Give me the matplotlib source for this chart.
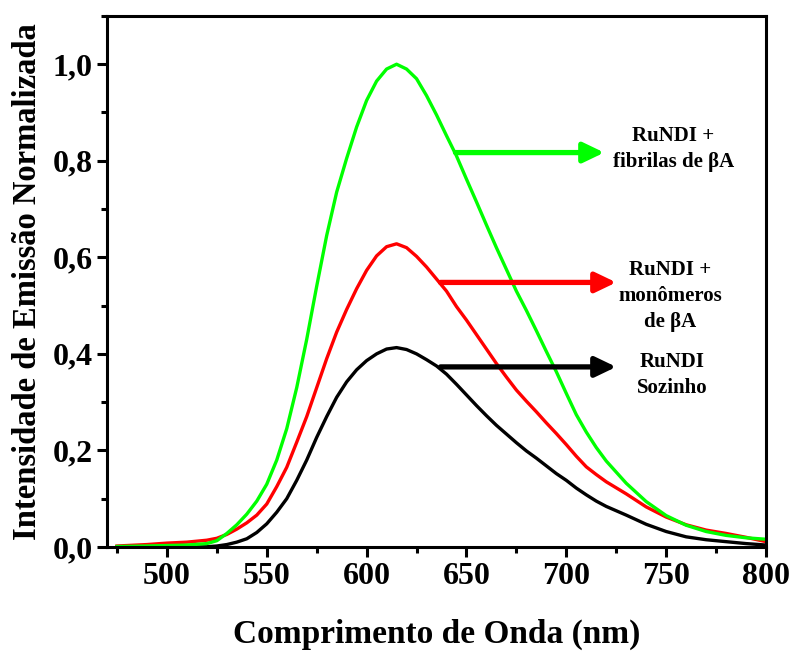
import numpy as np
import matplotlib
matplotlib.use("Agg")
import matplotlib.pyplot as plt
from matplotlib.ticker import MultipleLocator, FuncFormatter

plt.rcParams.update({"font.family": ["Liberation Serif", "DejaVu Serif"],
                     "font.weight": "bold", "axes.labelweight": "bold"})

# wavelength (nm) and normalised emission
wl = [475, 490, 500, 510, 520, 525, 530, 535, 540, 545, 550, 555, 560, 565, 570,
      575, 580, 585, 590, 595, 600, 605, 610, 615, 620, 625, 630, 635, 640, 645,
      650, 655, 660, 665, 670, 675, 680, 685, 690, 695, 700, 705, 710, 715, 720,
      730, 740, 750, 760, 770, 780, 790, 800]

fibrils = [0.001, 0.002, 0.003, 0.004, 0.007, 0.013, 0.028, 0.046, 0.068, 0.095,
           0.13, 0.18, 0.245, 0.33, 0.43, 0.54, 0.645, 0.735, 0.805, 0.87, 0.925,
           0.965, 0.99, 1.0, 0.99, 0.97, 0.935, 0.895, 0.852, 0.81, 0.762, 0.715,
           0.667, 0.62, 0.575, 0.53, 0.49, 0.448, 0.405, 0.363, 0.318, 0.274,
           0.238, 0.206, 0.178, 0.132, 0.094, 0.065, 0.045, 0.032, 0.024, 0.019,
           0.016]

monomers = [0.002, 0.005, 0.008, 0.01, 0.014, 0.018, 0.026, 0.037, 0.05, 0.066,
            0.089, 0.125, 0.165, 0.217, 0.27, 0.33, 0.39, 0.445, 0.492, 0.535,
            0.573, 0.603, 0.622, 0.628, 0.62, 0.602, 0.58, 0.555, 0.53, 0.498,
            0.47, 0.44, 0.41, 0.38, 0.352, 0.325, 0.302, 0.28, 0.257, 0.235,
            0.212, 0.188, 0.166, 0.15, 0.135, 0.11, 0.083, 0.062, 0.046, 0.035,
            0.028, 0.02, 0.011]

alone = [0.0, 0.0, 0.0, 0.0, 0.0005, 0.002, 0.005, 0.01, 0.017, 0.03, 0.048,
         0.072, 0.1, 0.138, 0.18, 0.227, 0.27, 0.31, 0.342, 0.367, 0.386, 0.4,
         0.41, 0.413, 0.409, 0.40, 0.388, 0.375, 0.358, 0.337, 0.315, 0.293,
         0.272, 0.252, 0.234, 0.216, 0.199, 0.184, 0.168, 0.152, 0.138, 0.122,
         0.108, 0.095, 0.084, 0.066, 0.047, 0.032, 0.021, 0.015, 0.011, 0.007,
         0.004]

# label arrows: (x_start, x_end, y) in data units, and label (x, y, text)
arrows = [(644.5, 719, 0.817, "#00ff00"), (637, 725, 0.548, "#ff0000"),
          (637, 725, 0.373, "black")]
labels = [(753.5, 0.824, "RuNDI +\nfibrilas de βA"),
          (752, 0.519, "RuNDI +\nmonômeros\nde βA"),
          (753, 0.357, "RuNDI\nSozinho")]

fig = plt.figure(figsize=(7.92, 6.51), dpi=100)
ax = fig.add_axes([0.1351, 0.1598, 0.8321, 0.8157])

ax.plot(wl, alone, color="black", lw=2.4)
ax.plot(wl, monomers, color="#ff0000", lw=2.4)
ax.plot(wl, fibrils, color="#00ff00", lw=2.4)

for x0, x1, y, c in arrows:
    ax.annotate("", xy=(x1, y), xytext=(x0, y),
                arrowprops=dict(arrowstyle="-|>,head_length=1.25,head_width=0.6",
                                color=c, lw=3.8, shrinkA=0, shrinkB=0))
for x, y, t in labels:
    ax.text(x, y, t, ha="center", va="center", fontsize=15, fontweight="bold",
            linespacing=1.4)

ax.set_xlim(470, 800)
ax.set_ylim(0, 1.1)
ax.xaxis.set_major_locator(MultipleLocator(50))
ax.xaxis.set_minor_locator(MultipleLocator(25))
ax.yaxis.set_major_locator(MultipleLocator(0.2))
ax.yaxis.set_minor_locator(MultipleLocator(0.1))
ax.yaxis.set_major_formatter(FuncFormatter(lambda v, p: f"{v:.1f}".replace(".", ",")))
ax.tick_params(which="both", direction="out", width=2.2, labelsize=23)
ax.tick_params(which="major", length=7)
ax.tick_params(which="minor", length=4)
for s in ax.spines.values():
    s.set_linewidth(2.2)

ax.set_xlabel("Comprimento de Onda (nm)", fontsize=24, labelpad=20)
ax.set_ylabel("Intensidade de Emissão Normalizada", fontsize=23.5, labelpad=7)

fig.savefig("out.png", dpi=100)
